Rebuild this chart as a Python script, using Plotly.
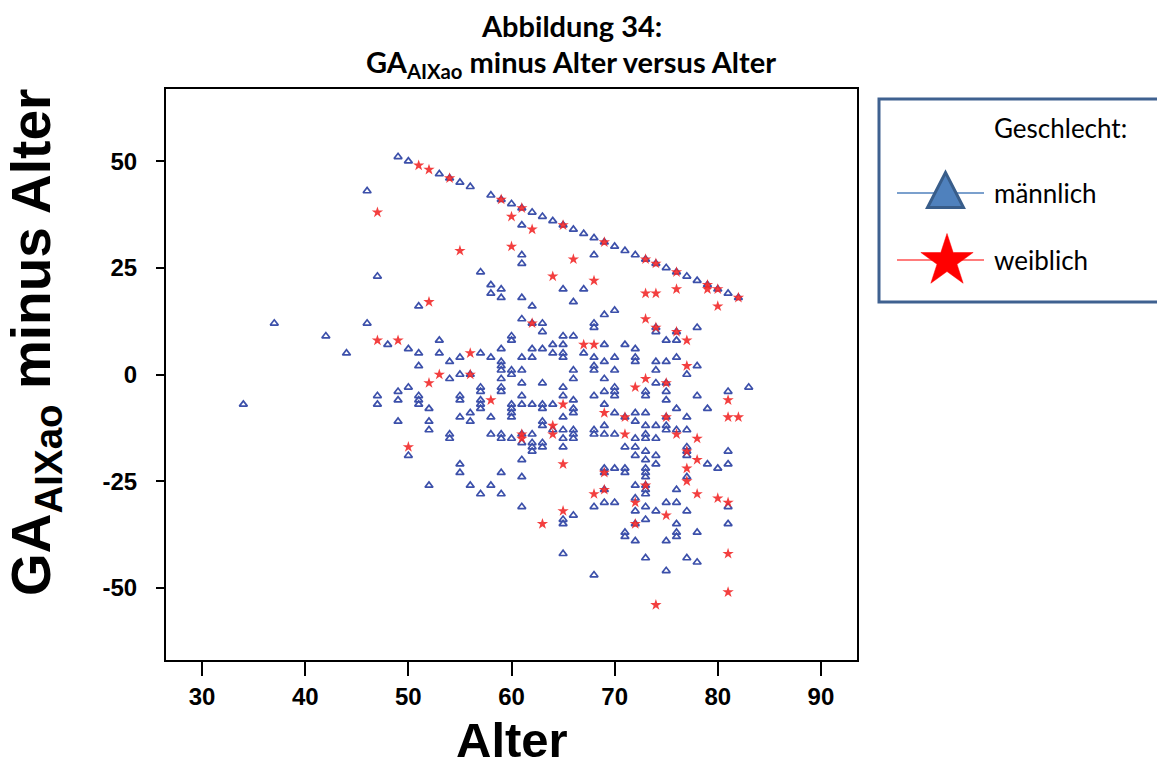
import numpy as np
import plotly.graph_objects as go

# ---------------- data (age, GA_AIXao - age) ----------------
male_age = [49, 50, 53, 54, 55, 56, 58, 59, 60, 61, 62, 63, 64, 65, 66, 67, 68, 69, 70, 71, 72, 73, 74, 75, 76, 77, 78, 79, 80, 81, 82,
            61, 61, 61, 57, 68, 46, 47,
            74, 74, 76, 78, 75, 76, 72, 72, 72, 74, 75, 76, 78, 77, 74, 74, 75, 73, 73, 75, 75, 78, 81, 83, 76, 79, 72, 73, 72, 75, 77,
            73, 74, 75, 75, 76, 77, 73, 72, 73, 74, 72, 77, 77, 77, 81, 72, 73, 74, 73, 74, 79, 81, 80, 73,
            73, 73, 72, 73, 73, 73, 77, 76, 81, 72, 72, 73, 74, 75, 76, 77, 73, 72, 76, 81, 76, 76, 78, 72, 75, 73, 77, 78, 75,
            55, 55, 61, 59, 61, 52, 56, 58, 57, 59, 61, 66, 65, 65, 65, 68, 69, 69, 70, 71, 71, 69, 68, 69, 70, 71, 71,
            58, 58, 59, 59, 65, 67, 61, 66, 62, 51, 69, 70, 61, 62, 63, 63, 68, 68, 60, 60, 53, 65, 66, 64, 65, 69, 71, 62, 63, 59, 50,
            51, 53, 57, 64, 65, 65, 67, 58, 61, 62, 68, 70, 54, 55, 51, 59, 59, 59, 60, 60, 61, 68, 68, 66, 69, 70, 56, 55, 54, 66, 69,
            59, 59, 59, 61, 63, 50, 57, 57, 57, 57, 57, 55, 55, 51, 51, 51, 61, 61, 62, 63, 63, 64, 65, 65, 66, 66, 66, 68, 69, 70, 70,
            70, 69, 52, 60, 60, 60, 60, 56, 56, 55, 58, 71, 70, 63, 63, 65, 66, 66, 66, 65, 65, 69, 68, 68, 69, 70, 52, 52, 54, 54, 58,
            59, 59, 60, 61, 61, 62, 62, 62, 62, 63, 63, 64, 65, 71, 50,
            37, 46, 42, 48, 44, 34, 47, 47, 49, 49, 49]
male_diff = [51, 50, 47, 46, 45, 44, 42, 41, 40, 39, 38, 37, 36, 35, 34, 33, 32, 31, 30, 29, 28, 27, 26, 25, 24, 23, 22, 21, 20, 19, 18,
             35, 28, 26, 24, 28, 43, 23,
             11, 10, 10, 11, 8, 8, 6, 4, 3, 3, 3, 4, 2, 0, 1, -2, -2, -4, -5, -4, -6, -5, -4, -3, -8, -8, -9, -9, -11, -10, -10,
             -12, -12, -12, -13, -13, -13, -14, -15, -15, -15, -17, -17, -18, -19, -18, -19, -18, -19, -20, -21, -21, -21, -22, -22,
             -23, -24, -26, -26, -27, -28, -24, -27, -31, -29, -32, -31, -32, -30, -30, -32, -34, -35, -35, -35, -37, -38, -37, -39, -39, -43, -43, -44, -46,
             -21, -23, -20, -23, -24, -26, -26, -26, -28, -28, -31, -33, -34, -35, -42, -47, -22, -23, -22, -22, -23, -27, -31, -30, -30, -37, -38,
             21, 19, 20, 18, 20, 20, 18, 17, 16, 16, 14, 15, 13, 12, 12, 10, 12, 11, 9, 8, 8, 9, 9, 7, 7, 7, 7, 6, 6, 6, 6,
             5, 5, 5, 5, 5, 4, 5, 4, 4, 4, 4, 4, 3, 4, 2, 3, 2, 1, 1, 0, 1, 2, 1, 1, 3, 1, 0, 0, -1, -1, -1,
             -1, -3, -4, -2, -2, -3, -3, -4, -6, -7, -8, -5, -6, -5, -6, -7, -5, -7, -7, -7, -8, -7, -5, -3, -6, -8, -9, -5, -7, -4, -5,
             -3, -4, -8, -7, -8, -9, -10, -9, -11, -10, -10, -10, -9, -11, -12, -10, -13, -14, -15, -13, -15, -12, -13, -14, -14, -14, -11, -13, -14, -15, -14,
             -14, -15, -15, -16, -14, -14, -16, -17, -18, -16, -17, -13, -17, -17, -19,
             12, 12, 9, 7, 5, -7, -5, -7, -4, -6, -11]

female_age = [51, 52, 54, 59, 61, 60, 62, 65, 69, 55, 60, 66, 64, 68, 73, 74, 76, 79, 79, 80, 82, 80, 73, 74, 76, 73, 74, 76, 77, 77,
              73, 72, 75, 81, 75, 81, 82, 76, 78, 77, 78, 77, 73, 77, 78, 80, 81, 72, 75, 72, 81, 81, 74, 65, 65, 63, 69, 68, 69,
              52, 62, 67, 68, 56, 53, 56, 52, 58, 65, 69, 71, 64, 64, 71, 61, 61, 50, 47, 47, 49]
female_diff = [49, 48, 46, 41, 39, 37, 34, 35, 31, 29, 30, 27, 23, 22, 27, 26, 24, 21, 20, 20, 18, 16, 19, 19, 20, 13, 11, 10, 8, 2,
               -1, -3, -2, -6, -10, -10, -10, -14, -15, -18, -20, -22, -26, -25, -28, -29, -30, -30, -33, -35, -42, -51, -54, -21, -32, -35, -23, -28, -27,
               17, 12, 7, 7, 5, 0, 0, -2, -6, -7, -9, -10, -12, -14, -14, -14, -15, -17, 38, 8, 8]

x_ticks = [30, 40, 50, 60, 70, 80, 90]
y_ticks = [50, 25, 0, -25, -50]
y_tick_text = ["50", "25", "0", "-25", "-50"]

BLUE = "#3C50AA"
RED = "#F22A2A"

W, H = 1157, 767
L, R, T, B = 166, 300, 89, 107

fig = go.Figure()
fig.add_trace(go.Scatter(x=male_age, y=male_diff, mode="markers", name="männlich",
                         marker=dict(symbol="triangle-up-open", size=7, color=BLUE, line=dict(width=1.7, color=BLUE)),
                         showlegend=False))
fig.add_trace(go.Scatter(x=female_age, y=female_diff, mode="markers", name="weiblich",
                         marker=dict(symbol="star", size=8.5, color=RED, opacity=0.9, line=dict(width=0)),
                         showlegend=False))

# ---------------- layout ----------------
fig.update_layout(
    width=W, height=H,
    margin=dict(l=L, r=R, t=T, b=B, pad=0),
    paper_bgcolor="white", plot_bgcolor="white",
    showlegend=False,
    xaxis=dict(range=[26.5, 93.5], tickvals=x_ticks, ticks="outside", ticklen=14, tickwidth=1.5, tickcolor="black",
               showline=True, linecolor="black", linewidth=2, mirror=True, showgrid=False, zeroline=False,
               tickfont=dict(family="Liberation Sans, Arial", size=24, color="black", weight="bold")),
    yaxis=dict(range=[-66.9, 66.9], tickvals=y_ticks, ticktext=y_tick_text, ticks="outside", ticklen=8,
               tickwidth=1.5, tickcolor="black",
               showline=True, linecolor="black", linewidth=2, mirror=True, showgrid=False, zeroline=False,
               ticklabelstandoff=14,
               tickfont=dict(family="Liberation Sans, Arial", size=24, color="black", weight="bold")),
)

def px_x(p):
    return (p - L) / (W - L - R)

def px_y(p):
    return (H - B - p) / (H - T - B)

title_font = dict(family="Lato, Open Sans, sans-serif", size=29, color="black")
fig.add_annotation(text="<b>Abbildung 34:</b>", x=px_x(571), y=px_y(25), xref="paper", yref="paper",
                   showarrow=False, xanchor="center", yanchor="middle", font=title_font)
fig.add_annotation(text="<b>GA<sub>AIXao</sub> minus Alter versus Alter</b>", x=px_x(571), y=px_y(64),
                   xref="paper", yref="paper", showarrow=False, xanchor="center", yanchor="middle", font=title_font)

fig.add_annotation(text="Alter", x=0.5, y=px_y(740), xref="paper", yref="paper", showarrow=False,
                   xanchor="center", yanchor="middle",
                   font=dict(family="Liberation Sans, Arial", size=49, color="black", weight="bold"))
fig.add_annotation(text="GA<sub>AIXao</sub> minus Alter", x=px_x(35), y=px_y(343), xref="paper", yref="paper",
                   showarrow=False, textangle=-90, xanchor="center", yanchor="middle",
                   font=dict(family="Liberation Sans, Arial", size=55, color="black", weight="bold"))

# ---------------- legend panel (pixel positions converted to paper units) ----------------
fig.add_shape(type="rect", xref="paper", yref="paper", x0=px_x(879), x1=px_x(1170), y0=px_y(302), y1=px_y(99),
              line=dict(color="#3F6190", width=3), fillcolor="rgba(0,0,0,0)")
fig.add_shape(type="line", xref="paper", yref="paper", x0=px_x(897), x1=px_x(984), y0=px_y(193), y1=px_y(193),
              line=dict(color="#4F81BD", width=1.5))
fig.add_shape(type="line", xref="paper", yref="paper", x0=px_x(897), x1=px_x(984), y0=px_y(260), y1=px_y(260),
              line=dict(color="#FF5050", width=1.5))

tri_cx, tri_cy, tri_w, tri_h = 945.5, 190, 36, 35
tri_pts = [(tri_cx - tri_w / 2, tri_cy + tri_h / 2), (tri_cx + tri_w / 2, tri_cy + tri_h / 2), (tri_cx, tri_cy - tri_h / 2)]
tri_path = "M " + " L ".join(f"{px_x(a):.5f},{px_y(b):.5f}" for a, b in tri_pts) + " Z"
fig.add_shape(type="path", xref="paper", yref="paper", path=tri_path,
              fillcolor="#4F81BD", line=dict(color="#385D8A", width=3))

st_cx, st_cy, R_out = 947, 261, 27.5
R_in = R_out * 0.382
ang = np.pi / 2 + np.arange(10) * np.pi / 5
rad = np.where(np.arange(10) % 2 == 0, R_out, R_in)
sx = st_cx + rad * np.cos(ang)
sy = st_cy - rad * np.sin(ang)
star_path = "M " + " L ".join(f"{px_x(a):.5f},{px_y(b):.5f}" for a, b in zip(sx, sy)) + " Z"
fig.add_shape(type="path", xref="paper", yref="paper", path=star_path,
              fillcolor="#FF0000", line=dict(color="#FF0000", width=0.5))

leg_font = dict(family="Lato, Open Sans, sans-serif", size=26, color="black")
for txt, yy in [("Geschlecht:", 128), ("männlich", 193), ("weiblich", 260)]:
    fig.add_annotation(text=txt, x=px_x(992), y=px_y(yy), xref="paper", yref="paper", showarrow=False,
                       xanchor="left", yanchor="middle", font=leg_font)

fig.write_html("out.html")
